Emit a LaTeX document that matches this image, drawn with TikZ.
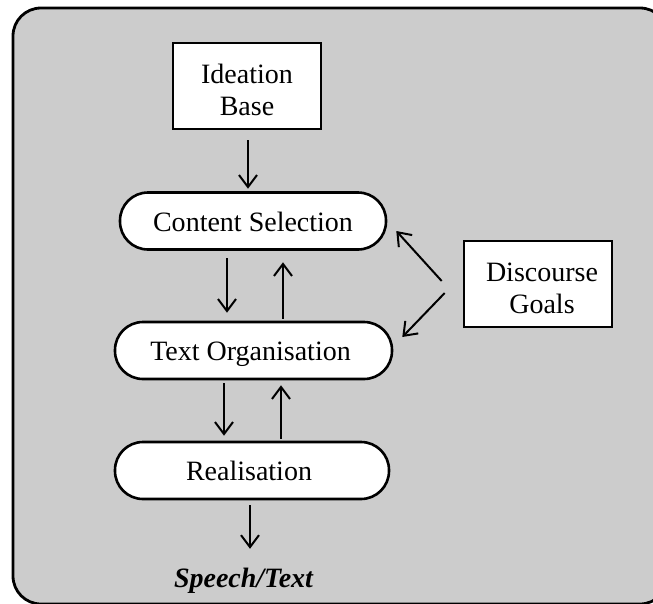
\documentclass[tikz,border=0pt]{standalone}
\usepackage{fontspec}
\setmainfont{Liberation Serif}
\usetikzlibrary{arrows.meta}
\definecolor{panelgray}{RGB}{204,204,204}
\begin{document}
\begin{tikzpicture}[x=1pt,y=-1pt,
  label font/.style={font=\fontsize{28}{32}\selectfont},
  squarebox/.style={draw, fill=white, line width=2.6pt, minimum width=148pt,
    minimum height=86pt, inner sep=0pt, align=center, label font,
    text height=58pt, text depth=0pt},
  stagebox/.style={draw, fill=white, line width=2.6pt, rounded corners=28pt,
    minimum height=57pt, inner sep=0pt, label font,
    text height=20pt, text depth=0pt},
  arr/.style={-{Straight Barb[length=12pt,width=18pt]}, line width=2pt}]
  \useasboundingbox (0,0) rectangle (653,603);
  \clip (0,0) rectangle (653,603);

  % grey panel behind the whole pipeline
  \draw[line width=2.8pt, fill=panelgray, rounded corners=28pt] (13,8) rectangle (668,604);

  % boxes
  \node[squarebox] (ib) at (247,86) {Ideation\\Base};
  \node[stagebox, minimum width=266pt] (cs) at (253,221) {Content Selection};
  \node[stagebox, minimum width=277pt] (to) at (253.5,350.5) {\hspace*{-6pt}Text Organisation};
  \node[stagebox, minimum width=274pt] (re) at (252,470.5) {\hspace*{-6pt}Realisation};
  \node[squarebox] (dg) at (538,284) {\hspace*{8pt}Discourse\\\hspace*{8pt}Goals};
  \node[inner sep=0pt, anchor=base, text height=19pt, label font]
    (sp) at (243.5,587) {\bfseries\itshape Speech/Text};

  % columns of the vertical arrows
  \coordinate (c0) at (248,0);
  \coordinate (cd1) at (227,0);
  \coordinate (cu1) at (283,0);
  \coordinate (cd2) at (224,0);
  \coordinate (cu2) at (281,0);
  \coordinate (c6) at (250,0);

  % vertical flow
  \draw[arr, shorten <=10pt, shorten >=2.5pt] (ib.south -| c0) -- (cs.north -| c0);
  \draw[arr, shorten <=7.5pt, shorten >=8pt] (cs.south -| cd1) -- (to.north -| cd1);
  \draw[arr, shorten <=2pt, shorten >=11.5pt] (to.north -| cu1) -- (cs.south -| cu1);
  \draw[arr, shorten <=3pt, shorten >=5pt] (to.south -| cd2) -- (re.north -| cd2);
  \draw[arr, shorten <=2pt, shorten >=5pt] (re.north -| cu2) -- (to.south -| cu2);
  \draw[arr, shorten <=5pt, shorten >=19pt] (re.south -| c6) -- (sp.north -| c6);

  % discourse goals feed the two planning stages
  \draw[arr] ([shift={(-21,-3)}]dg.west) -- ([shift={(9,10)}]cs.east);
  \draw[arr] ([shift={(-18,9)}]dg.west) -- ([shift={(9,-13.5)}]to.east);
\end{tikzpicture}
\end{document}
